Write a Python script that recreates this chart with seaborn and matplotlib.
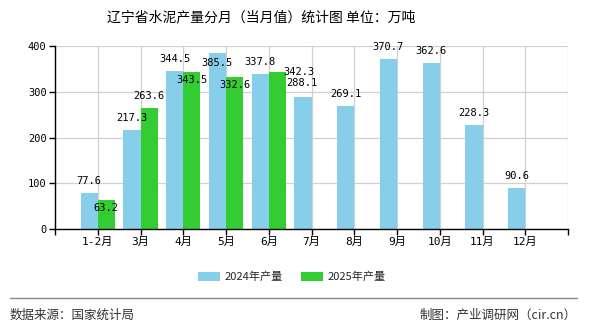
import numpy as np
import pandas as pd
import matplotlib
matplotlib.use("Agg")
import matplotlib.pyplot as plt
import seaborn as sns
from matplotlib.patches import Patch

months = ["1-2月", "3月", "4月", "5月", "6月", "7月", "8月", "9月", "10月", "11月", "12月"]
series_names = ["2024年产量", "2025年产量"]
values_2024 = [77.6, 217.3, 344.5, 385.5, 337.8, 288.1, 269.1, 370.7, 362.6, 228.3, 90.6]
values_2025 = [63.2, 263.6, 343.5, 332.6, 342.3]
yticks = [0, 100, 200, 300, 400]

title = "辽宁省水泥产量分月（当月值）统计图 单位：万吨"
source_text = "数据来源：国家统计局"
credit_text = "制图：产业调研网（cir.cn）"

colors = ["#87CEEB", "#33CC33"]

# label offsets in pixels (dx, dy) relative to bar top centre
offs_2024 = [(0, 12)] * 11
offs_2024 = list(offs_2024)
offs_2024[3] = (0, -10)
offs_2024[5] = (-1, 14)
offs_2025 = [(0, -8), (0, 12), (0, -8), (0, -8), (22, 0)]

rows = []
for m, v in zip(months, values_2024):
    rows.append({"month": m, "series": series_names[0], "value": v})
for m, v in zip(months, values_2025):
    rows.append({"month": m, "series": series_names[1], "value": v})
df = pd.DataFrame(rows)

sns.set_theme(style="white")
plt.rcParams["font.family"] = ["Noto Sans CJK SC", "DejaVu Sans"]
num_font = ["DejaVu Sans Mono", "Noto Sans CJK SC"]

fig = plt.figure(figsize=(5.9, 3.3), dpi=100)
ax = fig.add_axes([55 / 590, 1 - 229 / 330, (568 - 55) / 590, (229 - 46) / 330])

sns.barplot(data=df, x="month", y="value", hue="series", order=months,
            hue_order=series_names, palette=colors, width=0.8, dodge=True,
            saturation=1, ax=ax, legend=False, errorbar=None)
for p in ax.patches:
    p.set_edgecolor("none")

ax.set_xlim(-1, len(months))
ax.set_ylim(0, 400)
ax.set_yticks(yticks)
ax.set_yticklabels([str(t) for t in yticks], fontfamily=num_font, fontsize=7.5, color="black")
ticks = list(range(-1, len(months) + 1))
ax.set_xticks(ticks)
ax.set_xticklabels([""] + months + [""], fontfamily=num_font, fontsize=8, color="black")
ax.set_xlabel("")
ax.set_ylabel("")

ax.grid(True, color="#d0d0d0", linewidth=0.9)
ax.set_axisbelow(True)
for s in ["top", "right"]:
    ax.spines[s].set_visible(False)
ax.spines["left"].set_color("black")
ax.spines["bottom"].set_color("black")
ax.spines["left"].set_linewidth(1.0)
ax.spines["bottom"].set_linewidth(1.0)
ax.tick_params(axis="both", which="both", direction="out", length=4, width=1, color="black", pad=2,
               left=True, bottom=True)

# value labels
for i, v in enumerate(values_2024):
    dx, dy = offs_2024[i]
    ax.annotate(f"{v}", xy=(i - 0.2, v), xytext=(dx, dy), textcoords="offset pixels",
                ha="center", va="center", fontsize=7.5, fontfamily=num_font, color="black")
for i, v in enumerate(values_2025):
    dx, dy = offs_2025[i]
    ax.annotate(f"{v}", xy=(i + 0.2, v), xytext=(dx, dy), textcoords="offset pixels",
                ha="center", va="center", fontsize=7.5, fontfamily=num_font, color="black")

fig.text(261 / 590, 1 - 17 / 330, title, ha="center", va="center", fontsize=10, color="black")

handles = [Patch(facecolor=c, edgecolor="none") for c in colors]
fig.legend(handles, series_names, loc="center", bbox_to_anchor=(292 / 590, 1 - 277 / 330), ncol=2,
           frameon=False, fontsize=8, handlelength=2.0, handleheight=0.9, columnspacing=1.6,
           handletextpad=0.4)

fig.add_artist(plt.Line2D([10 / 590, 577 / 590], [1 - 298 / 330, 1 - 298 / 330],
                          transform=fig.transFigure, color="#888888", linewidth=1))
fig.text(10 / 590, 1 - 315 / 330, source_text, ha="left", va="center", fontsize=9, color="#333333")
fig.text(577 / 590, 1 - 315 / 330, credit_text, ha="right", va="center", fontsize=9, color="#333333")

fig.savefig("out.png", dpi=100)
